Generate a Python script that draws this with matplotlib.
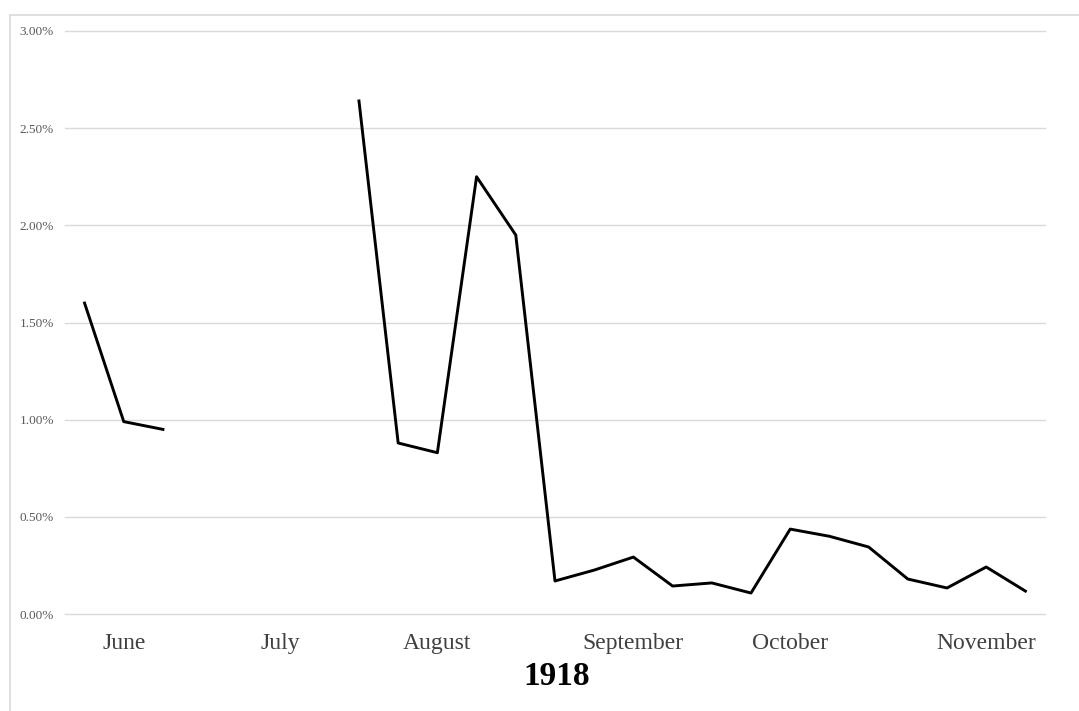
import numpy as np
import matplotlib
matplotlib.use("Agg")
from matplotlib import pyplot as plt
from matplotlib.lines import Line2D
from matplotlib.ticker import FuncFormatter

# weekly values (percent), gaps where no data
weeks = list(range(25))
rate = [1.60, 0.99, 0.95, np.nan, np.nan, np.nan, np.nan,
        2.64, 0.88, 0.83, 2.25, 1.95, 0.17, 0.226, 0.293,
        0.144, 0.16, 0.108, 0.437, 0.40, 0.345, 0.18, 0.134, 0.242, 0.118]

month_pos = [1, 5, 9, 14, 18, 23]
month_names = ["June", "July", "August", "September", "October", "November"]

serif = ["Liberation Serif", "DejaVu Serif"]

fig = plt.figure(figsize=(10.79, 7.11), dpi=100)
ax = fig.add_axes([0.0602, 0.1364, 0.9083, 0.82])

ax.plot(weeks, np.array(rate) / 100, color="black", linewidth=2.1)

ax.set_xlim(-0.5, 24.5)
ax.set_ylim(0, 0.03)
ax.set_yticks(np.arange(0, 0.0301, 0.005))
ax.yaxis.set_major_formatter(FuncFormatter(lambda v, p: "%.2f%%" % (v * 100)))
ax.grid(axis="y", color="#d9d9d9", linewidth=1)
for gl in ax.get_ygridlines():
    gl.set_clip_on(False)
ax.set_axisbelow(True)
for s in ax.spines.values():
    s.set_visible(False)
ax.tick_params(axis="y", length=0, pad=8, labelcolor="#595959", labelsize=9.5)
for lbl in ax.get_yticklabels():
    lbl.set_family(serif)

ax.set_xticks(month_pos)
ax.set_xticklabels(month_names, family=serif, fontsize=17, color="#404040")
ax.tick_params(axis="x", length=0, pad=14)

fig.text(0.516, 0.048, "1918", ha="center", va="center", family=serif,
         fontsize=24, fontweight="bold", color="black")

# light frame of the chart area
fig.add_artist(Line2D([10 / 1079, 1], [1 - 15 / 711, 1 - 15 / 711],
                      color="#d9d9d9", linewidth=1.2, transform=fig.transFigure))
fig.add_artist(Line2D([10 / 1079, 10 / 1079], [0, 1 - 15 / 711],
                      color="#d9d9d9", linewidth=1.2, transform=fig.transFigure))

fig.savefig("out.png", dpi=100)
